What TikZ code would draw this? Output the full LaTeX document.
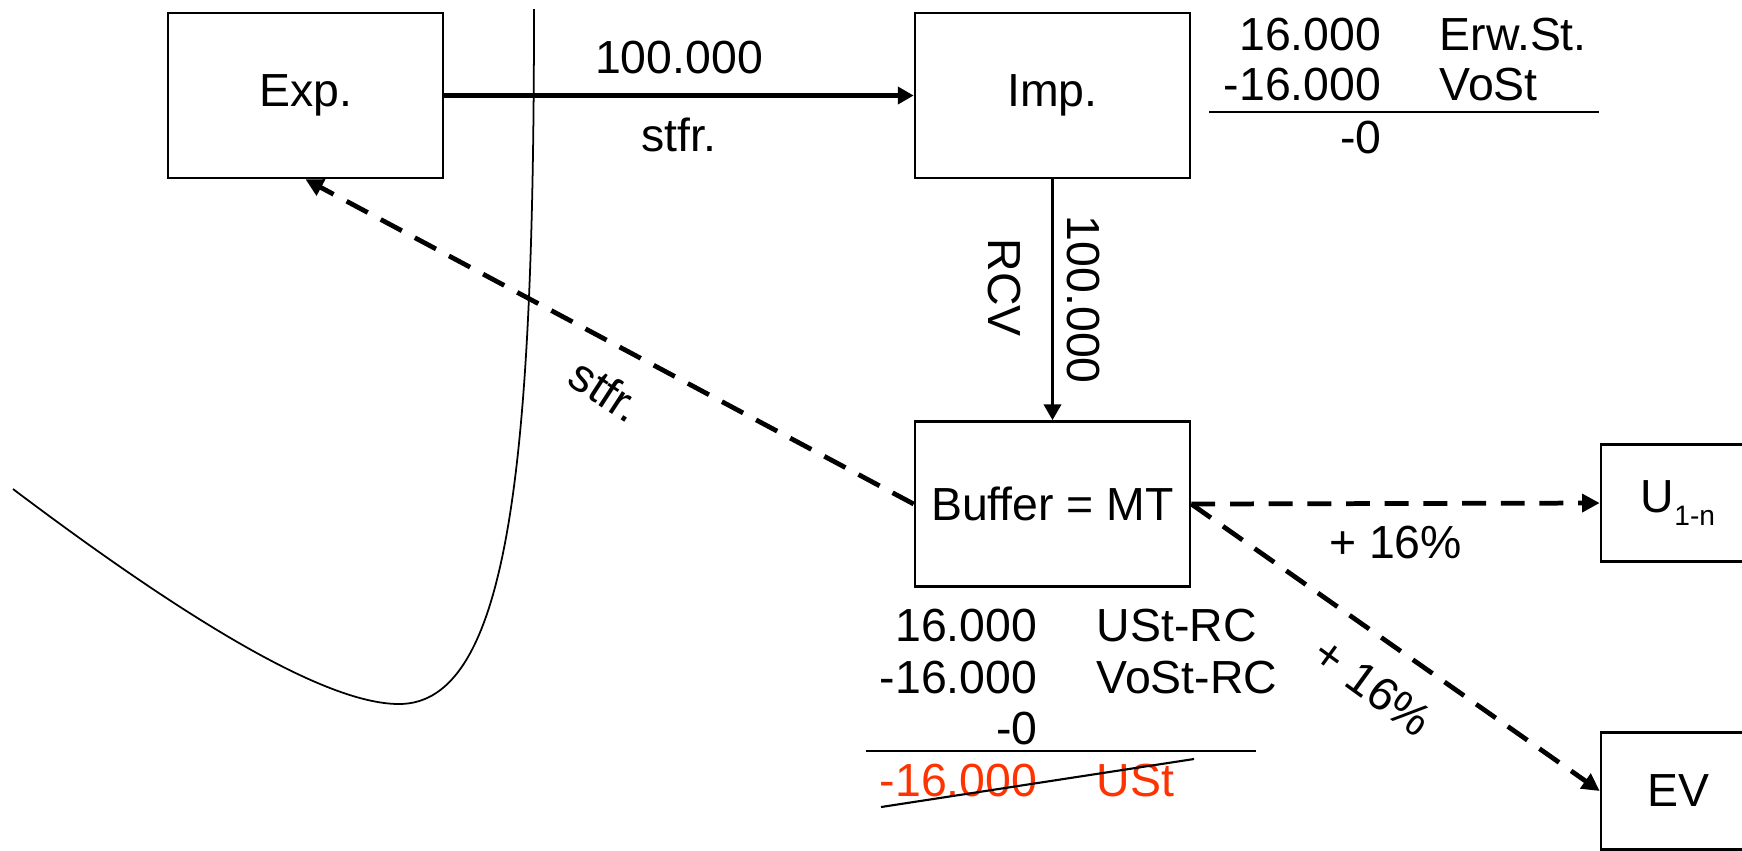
\documentclass[tikz,border=0pt]{standalone}
\usepackage{fontspec}
\setmainfont{Liberation Sans}
\usepackage{tikz}
\usetikzlibrary{arrows.meta}
\definecolor{ustred}{RGB}{255,51,0}

\begin{document}
\begin{tikzpicture}[x=0.01cm, y=-0.01cm,
  font=\fontsize{13.2pt}{15.8pt}\selectfont,
  box/.style={draw, line width=0.7pt, minimum width=2.75cm, minimum height=1.65cm, inner sep=0pt},
  smallbox/.style={draw, line width=0.7pt, minimum width=1.54cm, minimum height=1.17cm, inner sep=0pt},
  flow/.style={line width=1.5pt, -{Triangle[length=4.5pt,width=4.8pt]}},
  dflow/.style={line width=1.35pt, dash pattern=on 6.8pt off 4.2pt, -{Triangle[length=5pt,width=5pt]}},
  amt/.style={anchor=east, inner sep=0pt},
  acct/.style={anchor=west, inner sep=0pt}]

\path[use as bounding box, clip] (0,0) rectangle (1742,850);

\draw[line width=0.5pt] (13,489) .. controls (200,630) and (330,704) .. (399,704)
  .. controls (510,704) and (534,460) .. (534,9);

\node[box] (exp) at (305.5,95.5) {Exp.};
\node[box] (imp) at (1052.5,95.5) {Imp.};
\node[box] (buffer) at (1052.5,504) {Buffer = MT};
\node[smallbox] (u) at (1678,503) {U\raisebox{-0.26em}{\fontsize{8pt}{9pt}\selectfont 1-n}};
\node[smallbox] (ev) at (1678,791) {EV};

\draw[flow] (exp) -- (imp)
  node[midway, yshift=0.38cm] (lblamt) {100.000}
  node[midway, yshift=-0.39cm] (lblfree) {stfr.};
\draw[flow, line width=1.1pt] (imp) -- (buffer)
  node[pos=0.45, xshift=-0.485cm, rotate=-90] (lblrcv) {RCV}
  node[pos=0.5, xshift=0.305cm, rotate=-90] (lblrcvamt) {100.000};

\draw[dflow] (buffer.west) -- (exp.south);
\node[rotate=-33] (lblback) at (606,390) {stfr.};

\draw[dflow] (buffer.east) -- (u.west)
  node[midway, yshift=-0.39cm] (lblu) {+ 16\%};
\draw[dflow] (buffer.east) -- (ev.west);
\node[rotate=-36] (lblev) at (1373,687) {+ 16\%};

\node[amt] (a1) at (1382,35) {16.000};
\node[acct] (t1) at (1439,35) {Erw.St.};
\node[amt] (a2) at (1382,85) {-16.000};
\node[acct] (t2) at (1439,85) {VoSt};
\draw[line width=0.6pt] (1209,112) -- (1599,112);
\node[amt] (a3) at (1382,138) {-0};

\node[amt] (b1) at (1038,625) {16.000};
\node[acct] (s1) at (1096,625) {USt-RC};
\node[amt] (b2) at (1038,677) {-16.000};
\node[acct] (s2) at (1096,677) {VoSt-RC};
\node[amt] (b3) at (1038,728) {-0};
\draw[line width=0.6pt] (866,751) -- (1256,751);
\node[amt, text=ustred] (b4) at (1038,780) {-16.000};
\node[acct, text=ustred] (s4) at (1096,780) {USt};
\draw[line width=0.6pt] (881,807) -- (1194,759);

\end{tikzpicture}
\end{document}
